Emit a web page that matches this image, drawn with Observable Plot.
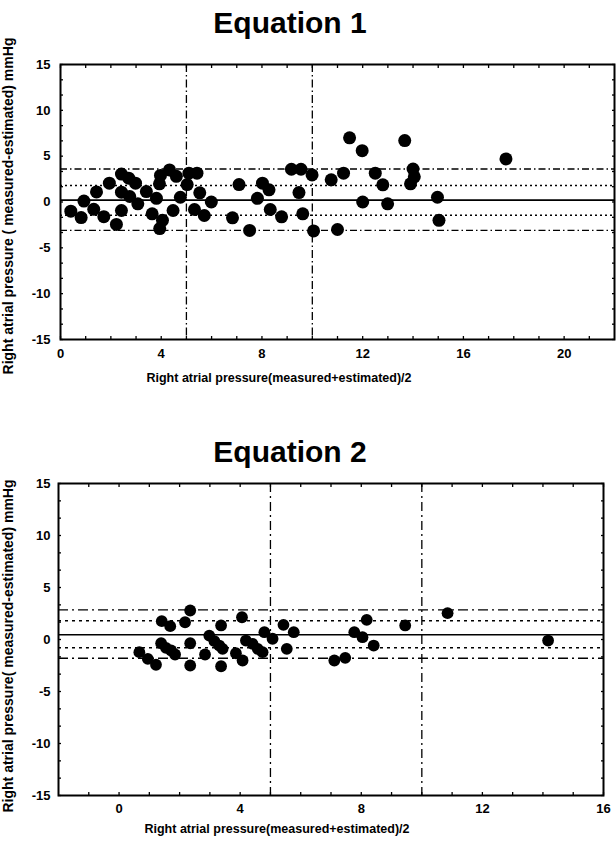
<!DOCTYPE html>
<html><head><meta charset="utf-8">
<script src="https://cdn.jsdelivr.net/npm/d3@7"></script>
<script src="https://cdn.jsdelivr.net/npm/@observablehq/plot@0.6"></script>
<style>
body{margin:0;background:#fff;}
#page{position:relative;width:616px;height:844px;overflow:hidden;font-family:Arial,"Liberation Sans",sans-serif;color:#000;}
.abs{position:absolute;}
.title{font-size:30px;font-weight:bold;line-height:30px;width:580px;left:0;text-align:center;}
.xlab{font-size:12.5px;font-weight:bold;line-height:12.5px;white-space:nowrap;transform:translateX(-50%);}
.ylab{font-size:14px;font-weight:bold;line-height:14px;white-space:nowrap;transform:translate(-50%,-50%) rotate(-90deg);}
</style></head>
<body><div id="page">
<div class="abs title" style="top:8px">Equation 1</div>
<div class="abs" id="chart1" style="left:0;top:0"></div>
<div class="abs xlab" style="left:279px;top:372px">Right atrial pressure(measured+estimated)/2</div>
<div class="abs ylab" style="left:8px;top:206px">Right atrial pressure ( measured-estimated) mmHg</div>
<div class="abs title" style="top:437px">Equation 2</div>
<div class="abs" id="chart2" style="left:0;top:440px"></div>
<div class="abs xlab" style="left:277px;top:823px">Right atrial pressure(measured+estimated)/2</div>
<div class="abs ylab" style="left:8px;top:646px">Right atrial pressure( measured-estimated) mmHg</div>
</div>
<script>
// ---- Equation 1 data ----
const eq1Mean = [0.41, 0.82, 0.93, 1.32, 1.43, 1.72, 1.94, 2.22, 2.42, 2.42, 2.42, 2.71, 2.75, 2.98, 3.07, 3.41, 3.64, 3.81, 3.93, 3.97, 4.05, 3.94, 4.33, 4.6, 4.47, 4.76, 5.03, 5.1, 5.42, 5.32, 5.53, 5.71, 5.99, 6.83, 7.09, 7.51, 7.82, 8.02, 8.28, 8.33, 8.78, 9.17, 9.55, 9.47, 9.62, 9.99, 10.05, 10.75, 11.0, 11.24, 11.48, 11.98, 12.0, 12.5, 12.8, 12.99, 13.67, 14.0, 14.05, 13.9, 14.97, 15.03, 17.69];
const eq1Diff = [-1.0, -1.7, 0.1, -0.8, 1.1, -1.6, 2.05, -2.45, 3.05, -0.93, 1.07, 2.6, 0.6, 2.05, -0.2, 1.14, -1.29, 0.4, 1.98, 2.9, -2.0, -2.9, 3.5, 2.8, -0.93, 0.52, 1.9, 3.14, 3.14, -0.82, 1.0, -1.47, 0.0, -1.73, 1.9, -3.1, 0.4, 2.05, 1.33, -0.82, -1.62, 3.57, 3.57, 1.03, -1.29, 2.95, -3.15, 2.42, -3.0, 3.14, 7.0, 5.6, 0.0, 3.14, 1.87, -0.2, 6.7, 3.6, 2.75, 1.98, 0.52, -2.0, 4.7];
const eq1Bias = [0.2];
const eq1Inner = [1.8, -1.45];
const eq1Outer = [3.6, -3.1];

// ---- Equation 2 data ----
const eq2Mean = [0.67, 0.95, 1.22, 1.41, 1.69, 1.39, 1.55, 1.72, 1.85, 2.18, 2.35, 2.35, 2.35, 2.84, 2.98, 3.15, 3.37, 3.31, 3.42, 3.37, 3.86, 4.08, 4.06, 4.19, 4.41, 4.58, 4.74, 4.8, 5.07, 5.43, 5.77, 5.54, 7.11, 7.47, 7.77, 8.04, 8.18, 8.41, 9.45, 10.85, 14.17];
const eq2Diff = [-1.22, -1.86, -2.43, 1.76, 1.28, -0.36, -0.8, -1.06, -1.44, 1.66, 2.79, -0.36, -2.5, -1.44, 0.38, -0.16, 1.35, -0.58, -0.9, -2.57, -1.32, -2.02, 2.14, -0.1, -0.42, -0.9, -1.22, 0.7, 0.07, 1.41, 0.7, -0.9, -2.02, -1.76, 0.7, 0.22, 1.89, -0.58, 1.35, 2.53, -0.1];
const eq2Bias = [0.45];
const eq2Inner = [1.8, -0.8];
const eq2Outer = [2.85, -1.8];

// ---- shared ----
const groupCuts = [5, 10];
const yTicks = [-15, -10, -5, 0, 5, 10, 15];
const yMinor = [-13.33, -11.67, -8.33, -6.67, -3.33, -1.67, 1.67, 3.33, 6.67, 8.33, 11.67, 13.33];
const eq1XTicks = [0, 4, 8, 12, 16, 20];
const eq1XMinor = [1, 2, 3, 5, 6, 7, 9, 10, 11, 13, 14, 15, 17, 18, 19, 21];
const eq2XTicks = [0, 4, 8, 12, 16];
const eq2XMinor = [-1, 1, 2, 3, 5, 6, 7, 9, 10, 11, 13, 14, 15];

function bland(cfg) {
  const pts = cfg.xs.map((x, i) => ({x, y: cfg.ys[i]}));
  const fmt = d => String(d);
  const none = () => "";
  return Plot.plot({
    width: 616, height: cfg.height,
    marginTop: cfg.mt, marginBottom: cfg.mb, marginLeft: cfg.ml, marginRight: cfg.mr,
    style: {fontFamily: "Arial, 'Liberation Sans', sans-serif", fontSize: "13px", fontWeight: "bold", color: "#000", background: "transparent", overflow: "visible"},
    x: {domain: cfg.xDomain},
    y: {domain: [-15, 15]},
    marks: [
      Plot.ruleX(groupCuts, {stroke: "#000", strokeWidth: 1.3, strokeDasharray: cfg.vDash}),
      Plot.ruleY(cfg.outer, {stroke: "#000", strokeWidth: 1.4, strokeDasharray: cfg.oDash}),
      Plot.ruleY(cfg.inner, {stroke: "#000", strokeWidth: 1.5, strokeDasharray: cfg.iDash}),
      Plot.ruleY(cfg.bias, {stroke: "#000", strokeWidth: 1.6}),
      Plot.dot(pts, {x: "x", y: "y", r: cfg.r, fill: "#000", stroke: null}),
      Plot.axisX(cfg.xTicks, {anchor: "bottom", tickSize: 0, tickPadding: cfg.xpad, tickFormat: fmt, label: null}),
      Plot.axisX(cfg.xMinor.concat(cfg.xTicks), {anchor: "bottom", tickSize: -3, tickFormat: none, label: null, strokeWidth: 1.3}),
      Plot.axisX(cfg.xMinor.concat(cfg.xTicks), {anchor: "top", tickSize: -3, tickFormat: none, label: null, strokeWidth: 1.3}),
      Plot.axisY(yTicks, {anchor: "left", tickSize: 0, tickPadding: cfg.ypad, tickFormat: fmt, label: null}),
      Plot.axisY(yMinor.concat(yTicks), {anchor: "left", tickSize: -3, tickFormat: none, label: null, strokeWidth: 1.3}),
      Plot.axisY(yMinor.concat(yTicks), {anchor: "right", tickSize: -3, tickFormat: none, label: null, strokeWidth: 1.3}),
      Plot.frame({stroke: "#000", strokeWidth: 2})
    ]
  });
}

document.getElementById("chart1").appendChild(bland({
  xs: eq1Mean, ys: eq1Diff, bias: eq1Bias, inner: eq1Inner, outer: eq1Outer,
  xDomain: [0, 22], xTicks: eq1XTicks, xMinor: eq1XMinor,
  height: 400, mt: 64, mb: 61, ml: 60, mr: 2, r: 6.5, xpad: 9, ypad: 10,
  vDash: "8,3,1.5,3", oDash: "7,3,1.5,3", iDash: "2,3"
}));

document.getElementById("chart2").appendChild(bland({
  xs: eq2Mean, ys: eq2Diff, bias: eq2Bias, inner: eq2Inner, outer: eq2Outer,
  xDomain: [-2, 16], xTicks: eq2XTicks, xMinor: eq2XMinor,
  height: 404, mt: 43, mb: 49, ml: 58, mr: 13, r: 5.9, xpad: 8, ypad: 8,
  vDash: "9,4,2,4", oDash: "10,4,2,4", iDash: "3,4"
}));
</script>
</body></html>
